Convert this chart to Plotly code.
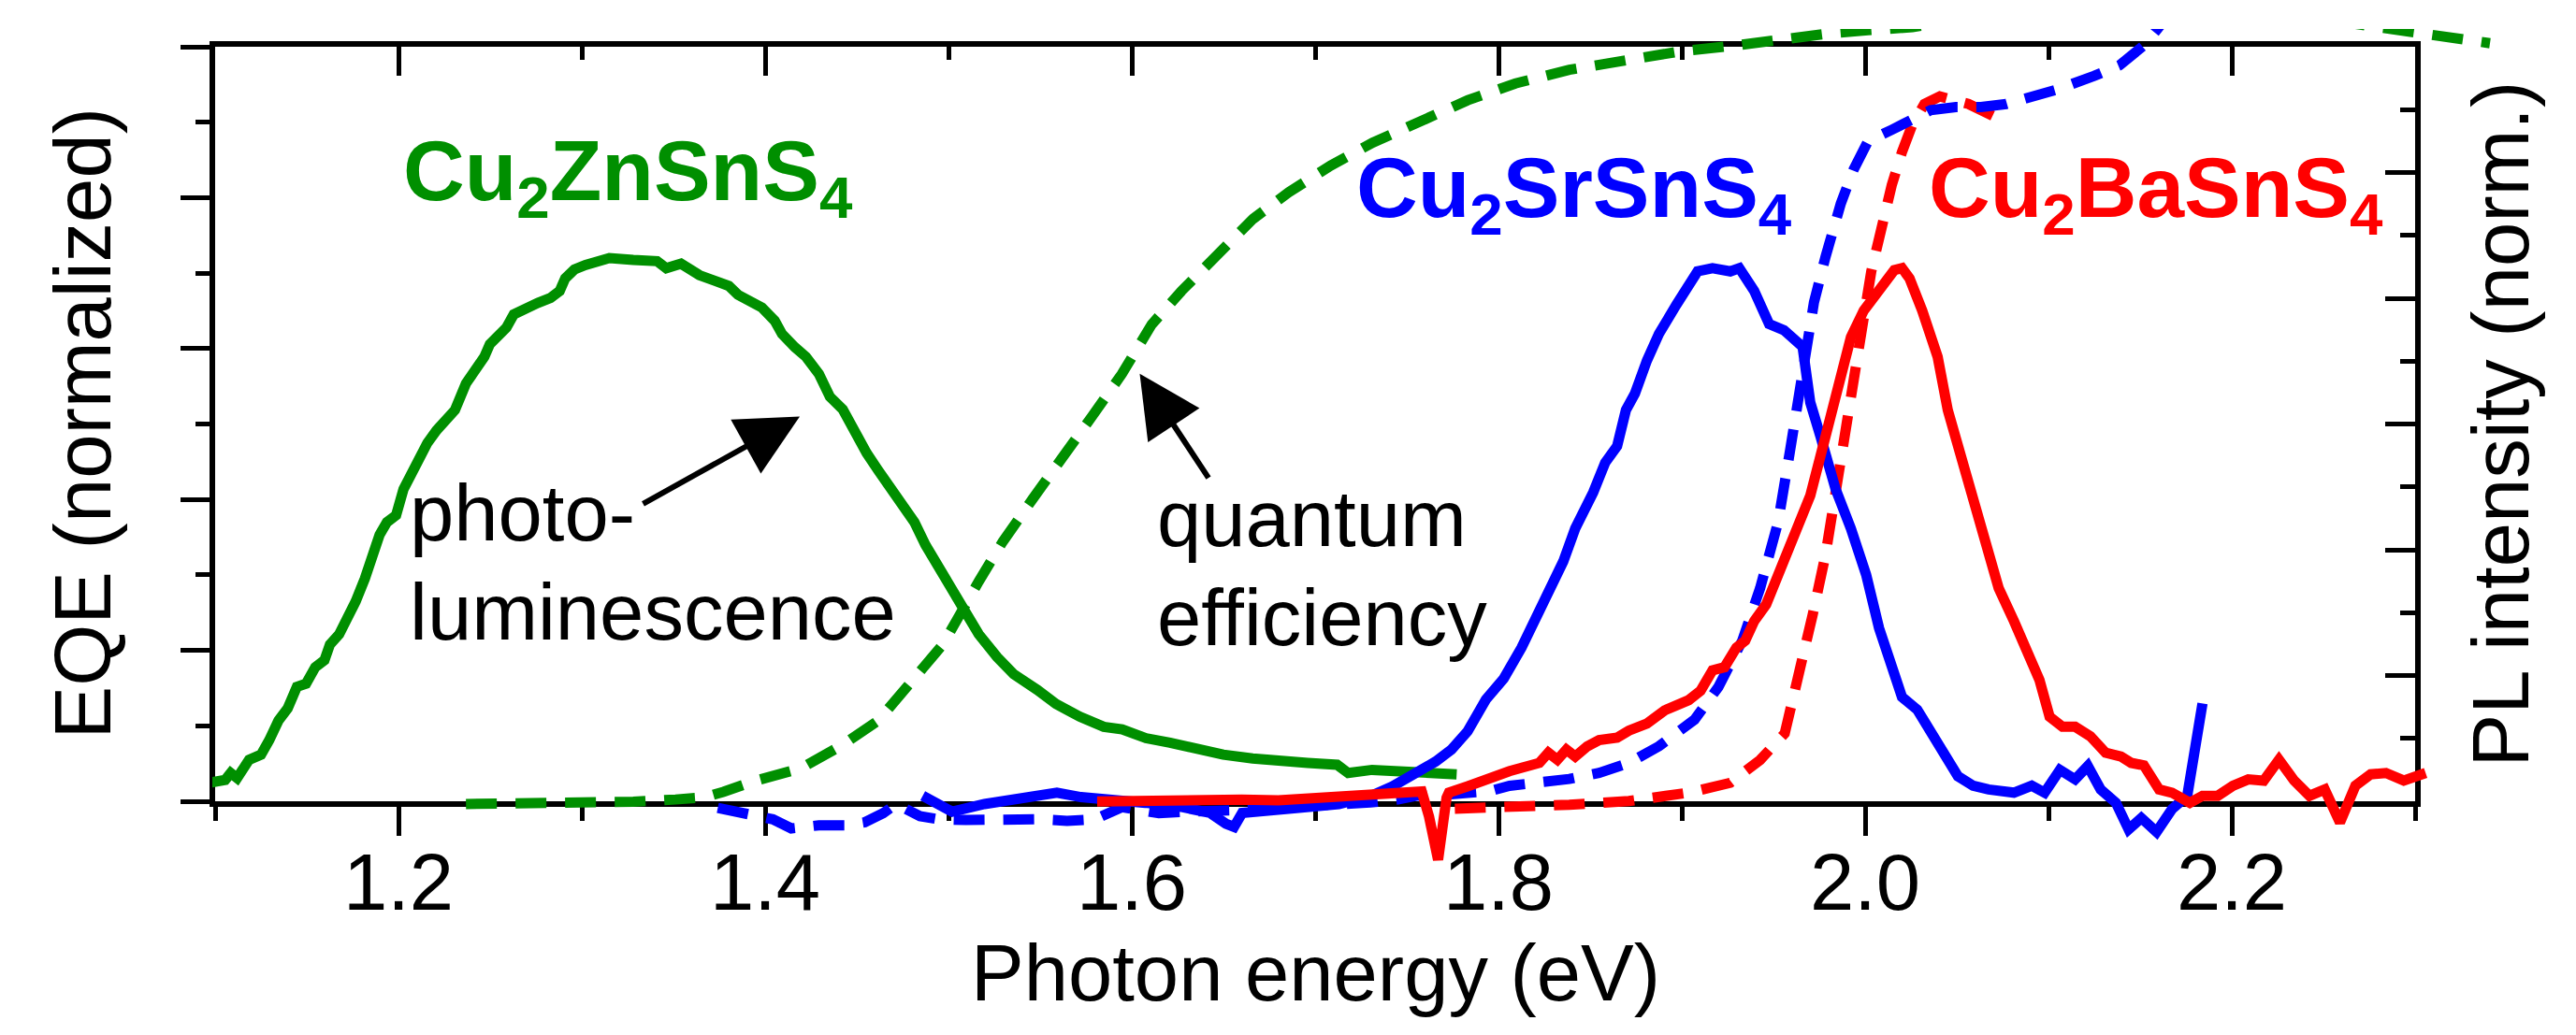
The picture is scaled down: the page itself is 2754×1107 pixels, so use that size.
import plotly.graph_objects as go

# ---------------- data ----------------
# Photoluminescence (solid lines, right axis, PL intensity normalized)
pl_czts_E = [1.099, 1.107, 1.110, 1.1135, 1.120, 1.1265, 1.131, 1.136, 1.141, 1.146, 1.151, 1.156,
             1.161, 1.164, 1.169, 1.174, 1.178, 1.183, 1.187, 1.191, 1.195, 1.200, 1.204, 1.209,
             1.214, 1.217, 1.222, 1.227, 1.232, 1.235, 1.238, 1.243, 1.248, 1.251, 1.256, 1.260,
             1.264, 1.271, 1.277, 1.284, 1.289, 1.292, 1.297, 1.303, 1.310, 1.316, 1.329, 1.342,
             1.347, 1.355, 1.365, 1.381, 1.386, 1.393, 1.399, 1.406, 1.410, 1.417, 1.423, 1.430,
             1.436, 1.443, 1.449, 1.456, 1.462, 1.469, 1.475, 1.482, 1.488, 1.4975, 1.507, 1.517,
             1.527, 1.536, 1.549, 1.559, 1.572, 1.585, 1.595, 1.608, 1.621, 1.637, 1.650, 1.666,
             1.683, 1.696, 1.712, 1.718, 1.731, 1.747, 1.760, 1.777]
pl_czts_I = [0.034, 0.038, 0.049, 0.041, 0.070, 0.078, 0.101, 0.132, 0.151, 0.185, 0.190, 0.216,
             0.227, 0.252, 0.268, 0.294, 0.320, 0.356, 0.388, 0.425, 0.445, 0.456, 0.497, 0.528,
             0.550, 0.570, 0.590, 0.606, 0.622, 0.643, 0.664, 0.685, 0.706, 0.726, 0.742, 0.752,
             0.773, 0.784, 0.791, 0.799, 0.810, 0.830, 0.844, 0.851, 0.859, 0.862, 0.859, 0.857,
             0.846, 0.853, 0.835, 0.818, 0.804, 0.794, 0.784, 0.763, 0.742, 0.721, 0.706, 0.679,
             0.643, 0.623, 0.590, 0.554, 0.528, 0.497, 0.472, 0.445, 0.409, 0.362, 0.314, 0.268,
             0.232, 0.205, 0.180, 0.158, 0.138, 0.122, 0.118, 0.104, 0.097, 0.086, 0.078, 0.072,
             0.070, 0.065, 0.062, 0.049, 0.054, 0.052, 0.049, 0.047]

pl_csts_E = [1.4865, 1.5025, 1.5201, 1.5347, 1.5493, 1.5595, 1.5726, 1.5872, 1.6077, 1.6281, 1.6428,
             1.6515, 1.6559, 1.6603, 1.6661, 1.6807, 1.6954, 1.7129, 1.7304, 1.7421, 1.7538, 1.7655,
             1.7742, 1.783, 1.7929, 1.8026, 1.8123, 1.822, 1.835, 1.8415, 1.8513, 1.8578, 1.8643,
             1.8691, 1.874, 1.8805, 1.887, 1.8967, 1.9081, 1.9162, 1.9259, 1.9308, 1.9389, 1.947,
             1.9551, 1.9652, 1.9694, 1.9749, 1.9832, 1.9915, 1.9998, 2.0068, 2.0151, 2.0193, 2.0276,
             2.0359, 2.0442, 2.0497, 2.058, 2.0664, 2.0802, 2.0899, 2.0969, 2.1052, 2.1135, 2.1204,
             2.1274, 2.1357, 2.1426, 2.1495, 2.1578, 2.1662, 2.1745, 2.1828]
pl_csts_I = [0.013, -0.012, 0.000, 0.006, 0.011, 0.018, 0.011, 0.008, 0.002, -0.005, -0.014,
             -0.031, -0.036, -0.014, -0.012, -0.007, -0.005, 0.000, 0.013, 0.028, 0.047, 0.067,
             0.086, 0.115, 0.165, 0.198, 0.247, 0.305, 0.383, 0.435, 0.492, 0.539, 0.565,
             0.622, 0.648, 0.700, 0.742, 0.789, 0.841, 0.846, 0.841, 0.846, 0.810, 0.758,
             0.748, 0.722, 0.634, 0.581, 0.497, 0.435, 0.362, 0.278, 0.206, 0.169, 0.149,
             0.107, 0.070, 0.044, 0.029, 0.023, 0.018, 0.029, 0.018, 0.054, 0.039, 0.060,
             0.023, 0.002, -0.040, -0.022, -0.044, -0.008, 0.013, 0.159]

pl_cbts_E = [1.5814, 1.600, 1.620, 1.640, 1.660, 1.680, 1.700, 1.720, 1.735, 1.750, 1.758, 1.762,
             1.7669, 1.7715, 1.7728, 1.783, 1.7947, 1.8058, 1.822, 1.8269, 1.8318, 1.8367, 1.8415,
             1.848, 1.8545, 1.8643, 1.8707, 1.8805, 1.8902, 1.9032, 1.9097, 1.9162, 1.9227, 1.9292,
             1.934, 1.9389, 1.9454, 1.9551, 1.961, 1.9694, 1.9749, 1.9832, 1.9915, 1.9985, 2.004,
             2.0096, 2.0151, 2.0193, 2.0234, 2.0303, 2.0387, 2.0442, 2.0511, 2.058, 2.0636, 2.0719,
             2.0802, 2.0885, 2.0941, 2.0996, 2.1066, 2.1135, 2.1218, 2.1301, 2.1384, 2.144, 2.1509,
             2.1592, 2.1662, 2.1759, 2.1828, 2.1911, 2.1994, 2.2077, 2.2161, 2.2244, 2.2327, 2.241,
             2.2493, 2.2576, 2.266, 2.2743, 2.2826, 2.2923, 2.3042]
pl_cbts_I = [0.004, 0.005, 0.007, 0.005, 0.007, 0.006, 0.009, 0.011, 0.013, 0.016, 0.020, -0.020,
             -0.088, 0.010, 0.018, 0.028, 0.042, 0.052, 0.065, 0.081, 0.070, 0.086, 0.075,
             0.091, 0.101, 0.105, 0.116, 0.127, 0.148, 0.164, 0.179, 0.211, 0.216, 0.247,
             0.258, 0.289, 0.315, 0.383, 0.435, 0.487, 0.549, 0.643, 0.737, 0.779, 0.799,
             0.825, 0.843, 0.846, 0.830, 0.779, 0.706, 0.622, 0.549, 0.476, 0.414, 0.341,
             0.289, 0.232, 0.196, 0.138, 0.122, 0.122, 0.107, 0.081, 0.075, 0.065, 0.061,
             0.023, 0.018, 0.002, 0.013, 0.013, 0.029, 0.039, 0.037, 0.070, 0.037, 0.013,
             0.023, -0.029, 0.029, 0.047, 0.049, 0.037, 0.049]

# External quantum efficiency (dashed lines, left axis, normalized)
eqe_czts_E = [1.238, 1.264, 1.297, 1.329, 1.352, 1.368, 1.378, 1.3945, 1.4202, 1.443, 1.4624, 1.4819,
              1.4975, 1.517, 1.530, 1.5462, 1.5624, 1.5786, 1.5949, 1.6111, 1.6273, 1.6468, 1.6663,
              1.6857, 1.7085, 1.7312, 1.7571, 1.7831, 1.809, 1.8383, 1.8707, 1.898, 1.929, 1.9565,
              1.9768, 2.0008, 2.025, 2.05, 2.10, 2.15, 2.20, 2.25, 2.2776, 2.3087, 2.3392]
eqe_czts_Q = [0.000, 0.000, 0.001, 0.003, 0.006, 0.009, 0.016, 0.030, 0.047, 0.078, 0.110, 0.163,
              0.210, 0.293, 0.345, 0.401, 0.453, 0.510, 0.566, 0.631, 0.675, 0.723, 0.770,
              0.805, 0.840, 0.870, 0.899, 0.926, 0.948, 0.966, 0.979, 0.990, 0.998, 1.007,
              1.013, 1.018, 1.022, 1.032, 1.045, 1.050, 1.045, 1.032, 1.022, 1.014, 1.001]

eqe_csts_E = [1.375, 1.39, 1.405, 1.415, 1.43, 1.445, 1.455, 1.465, 1.472, 1.485, 1.495, 1.51, 1.53,
              1.55, 1.565, 1.58, 1.595, 1.605, 1.615, 1.63, 1.645, 1.66, 1.675, 1.69, 1.70, 1.72,
              1.73, 1.745, 1.755, 1.77, 1.78, 1.795, 1.8058, 1.8383, 1.8545, 1.8707, 1.887, 1.9064,
              1.9194, 1.9324, 1.9421, 1.9519, 1.9584, 1.9649, 1.9714, 1.9777, 1.986, 1.993, 2.0008,
              2.0137, 2.0247, 2.0349, 2.0486, 2.0623, 2.076, 2.0898, 2.1036, 2.1239, 2.1377, 2.1514,
              2.158, 2.165]
eqe_csts_Q = [-0.005, -0.012, -0.020, -0.032, -0.028, -0.028, -0.024, -0.012, 0.000, -0.016, -0.020,
              -0.021, -0.019, -0.020, -0.022, -0.020, -0.004, -0.009, -0.012, -0.010, -0.010, -0.008,
              -0.005, -0.004, -0.003, 0.000, 0.002, 0.006, 0.011, 0.012, 0.015, 0.017, 0.024, 0.033,
              0.041, 0.054, 0.076, 0.111, 0.154, 0.215, 0.284, 0.371, 0.465, 0.565, 0.660, 0.720,
              0.790, 0.835, 0.872, 0.887, 0.900, 0.913, 0.917, 0.917, 0.921, 0.929, 0.940, 0.958,
              0.972, 0.999, 1.017, 1.040]

eqe_cbts_E = [1.776, 1.8058, 1.8383, 1.8707, 1.9032, 1.9259, 1.9421, 1.9555, 1.9638, 1.9707, 1.9777,
              1.9832, 1.9888, 1.9943, 1.9985, 2.0026, 2.0082, 2.0137, 2.0193, 2.0248, 2.0315, 2.0399,
              2.0555, 2.0692]
eqe_cbts_Q = [-0.006, -0.004, -0.001, 0.004, 0.015, 0.028, 0.058, 0.093, 0.171, 0.249, 0.328,
              0.406, 0.484, 0.562, 0.640, 0.701, 0.761, 0.814, 0.858, 0.893, 0.921, 0.931,
              0.921, 0.905]

GREEN = "#008F00"
BLUE = "#0000FF"
RED = "#FF0000"
FONT = "Liberation Sans, Arial, sans-serif"

fig = go.Figure()

# empty traces so that the framed axes (bottom/left and top/right) are drawn
fig.add_trace(go.Scatter(x=[], y=[], xaxis="x", yaxis="y", mode="lines", hoverinfo="skip"))
fig.add_trace(go.Scatter(x=[], y=[], xaxis="x2", yaxis="y2", mode="lines", hoverinfo="skip"))

dash = "33px,20px"
LW = 11
for E, Q, col in [(eqe_czts_E, eqe_czts_Q, GREEN), (eqe_cbts_E, eqe_cbts_Q, RED),
                  (eqe_csts_E, eqe_csts_Q, BLUE)]:
    fig.add_trace(go.Scatter(x=E, y=Q, mode="lines", xaxis="x3", yaxis="y3",
                             line=dict(color=col, width=LW, dash=dash), hoverinfo="skip"))
for E, I, col in [(pl_czts_E, pl_czts_I, GREEN), (pl_csts_E, pl_csts_I, BLUE),
                  (pl_cbts_E, pl_cbts_I, RED)]:
    fig.add_trace(go.Scatter(x=E, y=I, mode="lines", xaxis="x3", yaxis="y4",
                             line=dict(color=col, width=LW), hoverinfo="skip"))

# geometry (pixels of the reference)
W, H = 2754, 1107
L, R, T, B = 219, 0, 23, 177
PW, PH = W - L - R, H - T - B
frame_left, frame_right, frame_top, frame_bottom = 219, 2577, 39, 852
AXLW = 6
half = AXLW / 2  # axis lines are drawn just outside the domain
xdom = [(frame_left + half - L) / PW, (frame_right - half - L) / PW]
ydom = [(H - B - frame_bottom + half) / PH, (H - B - frame_top - half) / PH]

x_range = [1.1, 2.3]
eqe_range = [0.0, 1.0]
pl_range = [0.0, 1.2]
px_per_x = (frame_right - frame_left) / (x_range[1] - x_range[0])
px_per_eqe = (frame_bottom - frame_top) / (eqe_range[1] - eqe_range[0])
x3_range = [x_range[0] - (frame_left - L) / px_per_x, x_range[0] + (W - R - frame_left) / px_per_x]
y3_range = [(frame_bottom - (H - B)) / px_per_eqe, (frame_bottom - T) / px_per_eqe]
y4_range = [v * pl_range[1] / eqe_range[1] for v in y3_range]

def px(xp):
    return (xp - L) / PW

def py(yp):
    return (H - B - yp) / PH

tickfont = dict(family=FONT, size=85, color="black")
common = dict(showline=True, linewidth=AXLW, linecolor="black", tickcolor="black", tickwidth=5,
              showgrid=False, zeroline=False, automargin=False)

fig.update_layout(
    width=W, height=H, margin=dict(l=L, r=R, t=T, b=B, pad=0),
    paper_bgcolor="white", plot_bgcolor="rgba(0,0,0,0)", showlegend=False,
    font=dict(family=FONT, color="black"),
    xaxis=dict(domain=xdom, anchor="y", range=x_range, ticks="outside", ticklen=31, dtick=0.2,
               tick0=0, tickformat=".1f", tickfont=tickfont, ticklabelstandoff=-23,
               minor=dict(ticks="outside", ticklen=15, dtick=0.1, tick0=0, tickwidth=5,
                          tickcolor="black", showgrid=False),
               **common),
    xaxis2=dict(overlaying="x", side="top", anchor="y2", range=x_range, ticks="inside", ticklen=31,
                dtick=0.2, tick0=0, showticklabels=False,
                minor=dict(ticks="inside", ticklen=14, dtick=0.1, tick0=0, tickwidth=5,
                           tickcolor="black", showgrid=False),
                **common),
    yaxis=dict(domain=ydom, anchor="x", range=eqe_range, ticks="outside", ticklen=31, dtick=0.2,
               tick0=0, showticklabels=False,
               minor=dict(ticks="outside", ticklen=15, dtick=0.1, tick0=0, tickwidth=5,
                          tickcolor="black", showgrid=False),
               **common),
    yaxis2=dict(overlaying="y", side="right", anchor="x2", range=pl_range, ticks="inside",
                ticklen=32, dtick=0.2, tick0=0, showticklabels=False,
                minor=dict(ticks="inside", ticklen=16, dtick=0.1, tick0=0, tickwidth=5,
                           tickcolor="black", showgrid=False),
                **common),
    xaxis3=dict(domain=[0, 1], anchor="y3", range=x3_range, visible=False, fixedrange=True),
    yaxis3=dict(domain=[0, 1], anchor="x3", range=y3_range, visible=False, fixedrange=True),
    yaxis4=dict(overlaying="y3", anchor="x3", range=y4_range, visible=False, fixedrange=True),
)

# axis titles (placed as annotations for exact positioning)
frame_cy = (frame_top + frame_bottom) / 2
titles = [
    ("Photon energy (eV)", (frame_left + frame_right) / 2, 1083 - 51, 0),
    ("EQE (normalized)", 117 - 37, frame_cy, -90),
    ("PL intensity (norm.)", 2702 - 37, frame_cy, -90),
]
for text, xc, yc, ang in titles:
    fig.add_annotation(text=text, xref="paper", yref="paper", x=px(xc), y=py(yc),
                       xanchor="center", yanchor="middle", textangle=ang, showarrow=False,
                       borderpad=0, font=dict(family=FONT, size=85, color="black"))

# text labels: (text, left x px, top y px, colour, size)
labels = [
    ("<b>Cu<sub>2</sub>ZnSnS<sub>4</sub></b>", 421.5, 123.0, GREEN, 91),
    ("<b>Cu<sub>2</sub>SrSnS<sub>4</sub></b>", 1440.5, 141.0, BLUE, 91),
    ("<b>Cu<sub>2</sub>BaSnS<sub>4</sub></b>", 2052.5, 141.0, RED, 91),
    ("photo-", 428.5, 492.0, "black", 85),
    ("luminescence", 428.5, 598.0, "black", 85),
    ("quantum", 1228.0, 498.0, "black", 85),
    ("efficiency", 1228.0, 604.0, "black", 85),
]
for text, xp, yp, col, size in labels:
    fig.add_annotation(text=text, xref="paper", yref="paper", x=px(xp), y=py(yp),
                       xanchor="left", yanchor="top", align="left", showarrow=False,
                       borderpad=0, font=dict(family=FONT, size=size, color=col))

arrows = [((847, 437.5), (678, 531.7)), ((1210.5, 391.7), (1285, 504.6))]
for (hx, hy), (tx, ty) in arrows:
    fig.add_annotation(text="", xref="paper", yref="paper", x=px(hx), y=py(hy),
                       ax=tx - hx, ay=ty - hy, showarrow=True, arrowhead=2, arrowsize=2.2,
                       arrowwidth=6, arrowcolor="black", standoff=0)

fig.write_html("out.html")
